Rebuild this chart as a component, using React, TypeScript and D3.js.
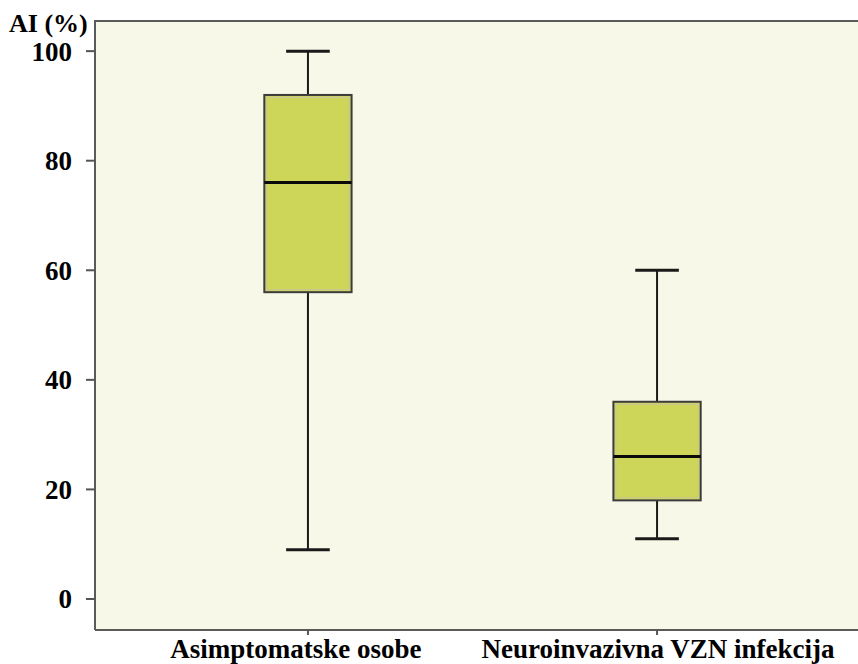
import React, { useRef, useEffect } from 'react';
import * as d3 from 'd3';

interface BoxStat {
  label: string,
  min: number,
  q1: number,
  median: number,
  q3: number,
  max: number
}

const categories = ['Asimptomatske osobe', 'Neuroinvazivna VZN infekcija'];
const minValues = [9, 11];
const q1Values = [56, 18];
const medianValues = [76, 26];
const q3Values = [92, 36];
const maxValues = [100, 60];
const yTicks = [0, 20, 40, 60, 80, 100];

const data: BoxStat[] = categories.map((label, i) => ({
  label,
  min: minValues[i],
  q1: q1Values[i],
  median: medianValues[i],
  q3: q3Values[i],
  max: maxValues[i]
}));

const App: React.FC = () => {
  const d3Container = useRef<SVGSVGElement | null>(null);

  useEffect(() => {
    if (!d3Container.current) return;
    const width = 858;
    const left = 95, top = 21, right = 870, bottom = 630;
    const font = '"Liberation Serif", "Times New Roman", serif';

    const svg = d3.select(d3Container.current);
    svg.selectAll('*').remove();

    const x = d3.scaleBand()
      .domain(categories)
      .range([left, right])
      .paddingInner(0.75)
      .paddingOuter(0.485);

    const y = d3.scaleLinear()
      .domain([-5.66, 105.5])
      .range([bottom, top]);

    // plot background
    svg.append('rect')
      .attr('x', left)
      .attr('y', top)
      .attr('width', right - left)
      .attr('height', bottom - top)
      .attr('fill', '#f8f8e9');

    // frame lines (left, top, bottom)
    const frame = svg.append('g').attr('stroke', '#5a5a5a').attr('stroke-width', 2).attr('fill', 'none');
    frame.append('path').attr('d', `M${left},${bottom}V${top}H${width}`);
    frame.append('path').attr('d', `M${left},${bottom}H${width}`);

    // y ticks
    const yAxis = svg.append('g');
    yAxis.selectAll('line')
      .data(yTicks)
      .enter()
      .append('line')
      .attr('x1', left - 9)
      .attr('x2', left)
      .attr('y1', (d) => y(d))
      .attr('y2', (d) => y(d))
      .attr('stroke', '#555')
      .attr('stroke-width', 2);
    yAxis.selectAll('text')
      .data(yTicks)
      .enter()
      .append('text')
      .attr('x', left - 23)
      .attr('y', (d) => y(d))
      .attr('dy', '0.35em')
      .attr('text-anchor', 'end')
      .style('font-family', font)
      .style('font-size', '27px')
      .style('font-weight', 'bold')
      .text((d) => d);

    svg.append('text')
      .attr('x', 9)
      .attr('y', 32)
      .style('font-family', font)
      .style('font-size', '26px')
      .style('font-weight', 'bold')
      .text('AI (%)');

    // x ticks and labels
    const xAxis = svg.append('g');
    xAxis.selectAll('line')
      .data(categories)
      .enter()
      .append('line')
      .attr('x1', (d) => (x(d) || 0) + x.bandwidth() / 2)
      .attr('x2', (d) => (x(d) || 0) + x.bandwidth() / 2)
      .attr('y1', bottom)
      .attr('y2', bottom + 5)
      .attr('stroke', '#555')
      .attr('stroke-width', 2);
    xAxis.selectAll('text')
      .data(categories)
      .enter()
      .append('text')
      .attr('x', (d) => (x(d) || 0) + x.bandwidth() / 2)
      .attr('dx', (d, i) => (i === 0 ? -12 : 1))
      .attr('y', 658)
      .attr('text-anchor', 'middle')
      .style('font-family', font)
      .style('font-size', '27px')
      .style('font-weight', 'bold')
      .text((d) => d);

    // boxes
    const boxes = svg.selectAll<SVGGElement, BoxStat>('g.box')
      .data(data)
      .enter()
      .append('g')
      .attr('class', 'box')
      .attr('transform', (d) => `translate(${x(d.label) || 0},0)`);

    const bw = x.bandwidth();
    const capW = bw / 2;

    // whiskers
    boxes.append('line')
      .attr('x1', bw / 2).attr('x2', bw / 2)
      .attr('y1', (d) => y(d.max)).attr('y2', (d) => y(d.q3))
      .attr('stroke', '#1a1a1a').attr('stroke-width', 2);
    boxes.append('line')
      .attr('x1', bw / 2).attr('x2', bw / 2)
      .attr('y1', (d) => y(d.q1)).attr('y2', (d) => y(d.min))
      .attr('stroke', '#1a1a1a').attr('stroke-width', 2);
    boxes.append('line')
      .attr('x1', bw / 2 - capW / 2).attr('x2', bw / 2 + capW / 2)
      .attr('y1', (d) => y(d.max)).attr('y2', (d) => y(d.max))
      .attr('stroke', '#1a1a1a').attr('stroke-width', 3);
    boxes.append('line')
      .attr('x1', bw / 2 - capW / 2).attr('x2', bw / 2 + capW / 2)
      .attr('y1', (d) => y(d.min)).attr('y2', (d) => y(d.min))
      .attr('stroke', '#1a1a1a').attr('stroke-width', 3);

    // box body
    boxes.append('rect')
      .attr('x', 0)
      .attr('y', (d) => y(d.q3))
      .attr('width', bw)
      .attr('height', (d) => y(d.q1) - y(d.q3))
      .attr('fill', '#ced65a')
      .attr('stroke', '#3c3c3c')
      .attr('stroke-width', 2);
    boxes.append('rect')
      .attr('x', 2.5)
      .attr('y', (d) => y(d.q3) + 2.5)
      .attr('width', bw - 5)
      .attr('height', (d) => y(d.q1) - y(d.q3) - 5)
      .attr('fill', 'none')
      .attr('stroke', '#c9c98a')
      .attr('stroke-width', 1.5);

    // median
    boxes.append('line')
      .attr('x1', 0).attr('x2', bw)
      .attr('y1', (d) => y(d.median)).attr('y2', (d) => y(d.median))
      .attr('stroke', '#0a0a0a').attr('stroke-width', 3);
  }, []);

  return (
    <div style={{ position: 'absolute', left: 0, top: 0 }}>
      <svg ref={d3Container} width={858} height={664} style={{ display: 'block', background: '#fff' }} />
    </div>
  );
};

export default App;
